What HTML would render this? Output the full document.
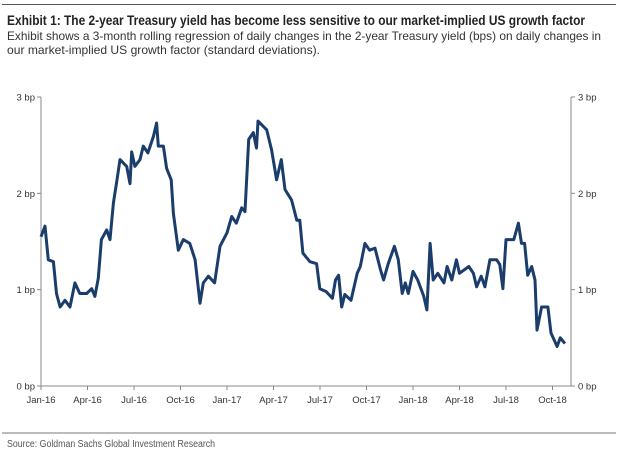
<!DOCTYPE html>
<html><head><meta charset="utf-8"><style>
html,body{margin:0;padding:0;background:#fff;width:618px;height:465px;overflow:hidden}
svg{display:block;font-family:"Liberation Sans",sans-serif}
</style></head><body>
<svg id="chart" width="618" height="465" viewBox="0 0 618 465">
<line x1="2" y1="4.5" x2="616" y2="4.5" stroke="#555" stroke-width="1"/>
<text x="7" y="25" font-size="13.5" font-weight="bold" fill="#222" textLength="578" lengthAdjust="spacingAndGlyphs">Exhibit 1: The 2-year Treasury yield has become less sensitive to our market-implied US growth factor</text>
<text x="7" y="40" font-size="12" fill="#333" textLength="594" lengthAdjust="spacingAndGlyphs">Exhibit shows a 3-month rolling regression of daily changes in the 2-year Treasury yield (bps) on daily changes in</text>
<text x="7" y="54" font-size="12" fill="#333" textLength="313" lengthAdjust="spacingAndGlyphs">our market-implied US growth factor (standard deviations).</text>
<g id="axes"></g>
<g id="series"></g>
<line x1="2" y1="433" x2="616" y2="433" stroke="#777" stroke-width="1"/>
<text x="7" y="447" font-size="10" fill="#555" textLength="208" lengthAdjust="spacingAndGlyphs">Source: Goldman Sachs Global Investment Research</text>
</svg>
<script>
// month index since Jan-16
const monthIdx = [0,0.26,0.47,0.8,1.0,1.23,1.55,1.87,2.19,2.5,2.95,3.27,3.48,3.7,3.9,4.24,4.45,4.67,4.9,5.1,5.53,5.74,5.85,6.06,6.39,6.6,6.9,7.25,7.46,7.57,7.9,8.1,8.4,8.54,8.86,9.18,9.6,9.94,10.26,10.47,10.8,11.2,11.55,12.0,12.3,12.6,12.95,13.16,13.4,13.7,13.9,14.0,14.56,14.88,15.2,15.5,15.74,16.17,16.5,16.7,16.9,17.35,17.78,17.99,18.4,18.8,19.0,19.2,19.4,19.6,20.0,20.4,20.6,20.9,21.2,21.55,21.9,22.1,22.4,22.8,23.05,23.3,23.5,23.7,24.0,24.3,24.7,24.9,25.1,25.3,25.6,26.0,26.2,26.5,26.8,27.0,27.6,27.9,28.1,28.4,28.64,28.96,29.4,29.6,29.8,30.0,30.5,30.8,31.0,31.2,31.4,31.66,31.87,32.0,32.3,32.7,32.9,33.3,33.5,33.8];
const betaBp = [1.55,1.66,1.31,1.29,0.96,0.82,0.89,0.82,1.07,0.96,0.96,1.01,0.93,1.12,1.52,1.62,1.52,1.9,2.14,2.35,2.28,2.1,2.43,2.28,2.35,2.49,2.42,2.59,2.73,2.49,2.49,2.26,2.14,1.79,1.41,1.52,1.48,1.31,0.86,1.07,1.14,1.07,1.45,1.59,1.76,1.69,1.85,1.81,2.56,2.63,2.47,2.75,2.66,2.45,2.14,2.35,2.04,1.93,1.72,1.72,1.38,1.29,1.27,1.01,0.98,0.91,1.1,1.15,0.82,0.95,0.89,1.17,1.24,1.48,1.41,1.43,1.21,1.1,1.27,1.45,1.31,0.96,1.07,0.96,1.19,1.1,0.93,0.79,1.48,1.1,1.17,1.07,1.24,1.1,1.31,1.17,1.24,1.17,1.03,1.14,1.03,1.31,1.31,1.26,1.01,1.52,1.52,1.69,1.48,1.48,1.15,1.24,1.1,0.58,0.82,0.82,0.55,0.41,0.5,0.44];
const xTickLabels = ["Jan-16","Apr-16","Jul-16","Oct-16","Jan-17","Apr-17","Jul-17","Oct-17","Jan-18","Apr-18","Jul-18","Oct-18"];
const xTickMonths = [0,3,6,9,12,15,18,21,24,27,30,33];
const yTicks = [0,1,2,3];
const yTickLabels = ["0 bp","1 bp","2 bp","3 bp"];

const NS="http://www.w3.org/2000/svg";
const L=41,R=571,T=97,B=386;
const xs=m=>L+m*15.5;
const ys=v=>B-(v/3)*(B-T);
const axes=document.getElementById('axes');
function mk(tag,attrs,parent){const e=document.createElementNS(NS,tag);for(const k in attrs)e.setAttribute(k,attrs[k]);parent.appendChild(e);return e;}
const ax=mk('line',{x1:L,y1:B,x2:R,y2:B,stroke:'#888','stroke-width':1},axes);


const la=mk('line',{x1:L,y1:T,x2:L,y2:B,stroke:'#888','stroke-width':1},axes);


const ra=mk('line',{x1:R,y1:T,x2:R,y2:B,stroke:'#888','stroke-width':1},axes);


yTicks.forEach((v,i)=>{
  const y=ys(v);
  mk('line',{x1:L-4,y1:y,x2:L,y2:y,stroke:'#888'},axes);
  mk('line',{x1:R,y1:y,x2:R+4,y2:y,stroke:'#888'},axes);
  const t1=mk('text',{x:L-6,y:y+3.5,'font-size':9.5,'text-anchor':'end',fill:'#333'},axes);
  t1.textContent=yTickLabels[i];
  
  
  const t2=mk('text',{x:R+7,y:y+3.5,'font-size':9.5,fill:'#333'},axes);
  t2.textContent=yTickLabels[i];
  
  
});
xTickMonths.forEach((m,i)=>{
  const x=xs(m);
  mk('line',{x1:x,y1:B,x2:x,y2:B+4,stroke:'#888'},axes);
  const t=mk('text',{x:x,y:403,'font-size':9.5,'text-anchor':'middle',fill:'#333'},axes);
  t.textContent=xTickLabels[i];
  
  
});
const d=monthIdx.map((m,i)=>(i?'L':'M')+xs(m).toFixed(1)+' '+ys(betaBp[i]).toFixed(1)).join(' ');
const p=mk('path',{d:d,fill:'none',stroke:'#1b3d6b','stroke-width':3,'stroke-linejoin':'round'},document.getElementById('series'));


</script>
</body></html>
